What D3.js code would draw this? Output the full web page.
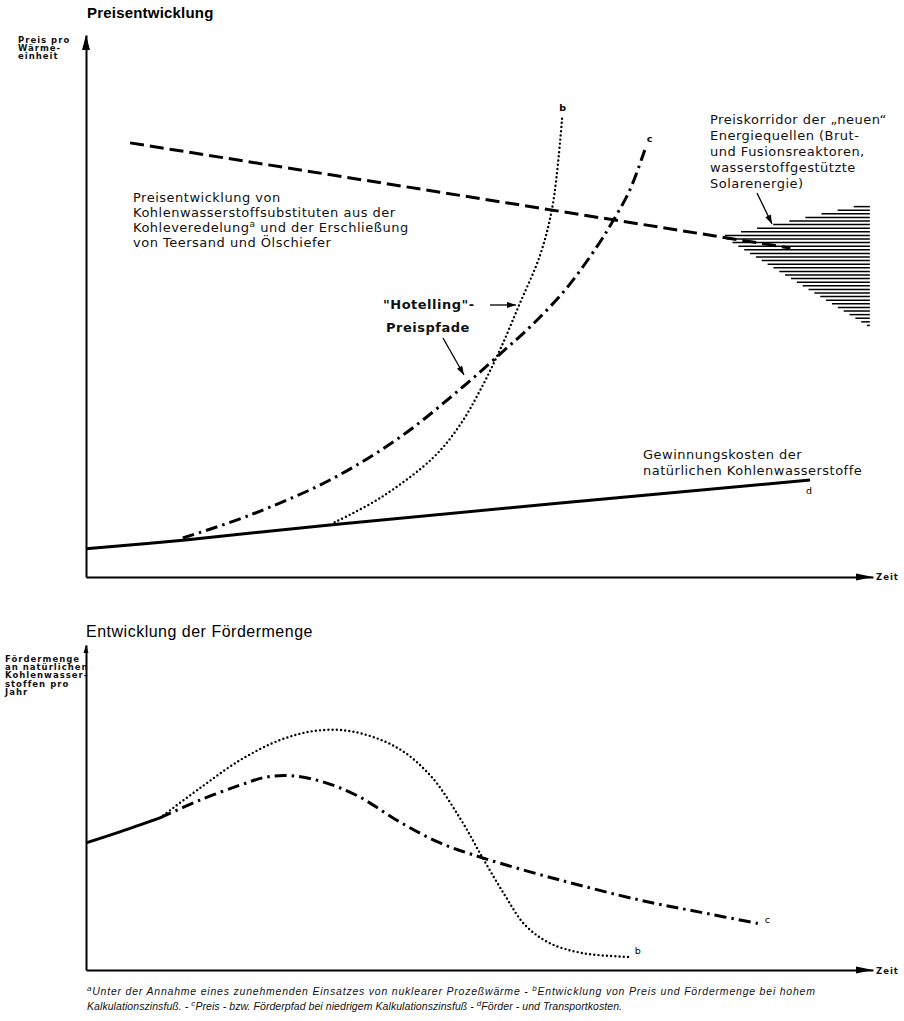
<!DOCTYPE html>
<html lang="de">
<head>
<meta charset="UTF-8">
<title>Preisentwicklung und Fördermenge</title>
<script src="https://d3js.org/d3.v7.min.js"></script>
<style>
  body { margin: 0; background: #fff; }
  svg { display: block; font-family: 'Liberation Sans', Arial, sans-serif; }
  .axis path { stroke: #000; stroke-width: 2px; }
  .lbl { font-family: 'DejaVu Sans', sans-serif; font-size: 13px; letter-spacing: 0.5px; fill: #111; }
  .small { font-family: 'DejaVu Sans', sans-serif; font-size: 8.5px; font-weight: bold; letter-spacing: 1px; fill: #111; }
  .foot { font-size: 10.5px; font-style: italic; fill: #111; }
</style>
</head>
<body>
<svg id="chart" width="904" height="1021"></svg>
<script>
// oberes Diagramm: Zeit 0..100, Preis 0..100 (relative Einheiten)
const kostenD = [[0, 5.2], [12.3, 6.8], [31.6, 9.7], [92.0, 17.9]];
const substitute = [[5.6, 80.1], [89.5, 60.7]];
const preisB = [[31.6, 10.1], [37.4, 14.6], [44.1, 22.0], [47.5, 28.0], [50.1, 34.5], [52.6, 41.9],
                [55.1, 50.4], [57.7, 59.4], [59.3, 68.6], [60.5, 84.7]];
const preisC = [[12.3, 7.2], [20.8, 11.4], [31.0, 17.9], [39.9, 25.8], [47.9, 35.1], [53.2, 41.9],
                [56.4, 46.1], [60.9, 53.0], [64.9, 60.9], [66.8, 65.3], [69.1, 71.4], [71.0, 78.8]];
// Preiskorridor: Spitze, rechter Rand
const korridorT = [80.8, 99.6];
const korridorOben = [62.9, 69.0];
const korridorUnten = [62.9, 46.1];

// unteres Diagramm: Fördermenge 0..100
const mengeStart = [[0, 39.1], [4.3, 42.5], [9.4, 46.8]];
const mengeB = [[9.4, 46.8], [14.5, 56.0], [19.6, 64.6], [24.7, 70.8], [29.2, 73.6], [33.8, 73.4],
                [39.4, 68.6], [43.7, 60.0], [47.5, 46.8], [50.4, 34.5], [53.2, 23.1], [55.8, 13.8],
                [58.9, 8.3], [63.1, 5.2], [69.1, 4.0]];
const mengeC = [[9.4, 46.8], [14.5, 52.3], [19.6, 56.9], [23.0, 59.4], [26.4, 59.7], [30.2, 57.8],
                [34.5, 53.6], [39.9, 45.5], [45.0, 39.1], [50.4, 34.5], [60.2, 27.7], [70.4, 21.5],
                [78.0, 17.8], [85.6, 14.2]];

const korridorText = ["Preiskorridor der „neuen“", "Energiequellen (Brut-", "und Fusionsreaktoren,",
                      "wasserstoffgestützte", "Solarenergie)"];
const yLabelOben = ["Preis pro", "Wärme-", "einheit"];
const yLabelUnten = ["Fördermenge", "an natürlichen", "Kohlenwasser-", "stoffen pro", "Jahr"];

const svg = d3.select("#chart");
const x = d3.scaleLinear().domain([0, 100]).range([86, 873]);
const yP = d3.scaleLinear().domain([0, 100]).range([577, 35]);
const yM = d3.scaleLinear().domain([0, 100]).range([970, 645]);

function arrowHead(px, py, dir, len, half) {
  // dir: "up" oder "right"
  const p = dir === "up"
    ? [[px, py], [px - half, py + len], [px + half, py + len]]
    : [[px, py], [px - len, py - half], [px - len, py + half]];
  svg.append("path").attr("d", "M" + p.join("L") + "Z").attr("fill", "#000");
}

// Achsen
svg.append("g").attr("class", "axis").attr("transform", `translate(0,${yP(0)})`)
  .call(d3.axisBottom(x).tickValues([]).tickSizeOuter(0));
svg.append("g").attr("class", "axis").attr("transform", `translate(${x(0)},0)`)
  .call(d3.axisLeft(yP).tickValues([]).tickSizeOuter(0));
arrowHead(x(100), yP(0), "right", 17, 3.5);
arrowHead(x(0), yP(100), "up", 15, 4);

svg.append("g").attr("class", "axis").attr("transform", `translate(0,${yM(0)})`)
  .call(d3.axisBottom(x).tickValues([]).tickSizeOuter(0));
svg.append("g").attr("class", "axis").attr("transform", `translate(${x(0)},0)`)
  .call(d3.axisLeft(yM).tickValues([]).tickSizeOuter(0));
arrowHead(x(100), yM(0), "right", 17, 3.5);
arrowHead(x(0), yM(100), "up", 8, 2.5);

// Preiskorridor (Schraffur)
const hatch = svg.append("g").attr("stroke", "#000").attr("stroke-width", 1.5);
const pxTop = yP(korridorOben[1]), pxBot = yP(korridorUnten[1]);
for (let py = pxTop; py <= pxBot; py += 3.6) {
  const v = yP.invert(py);
  let t;
  if (v >= korridorOben[0]) {
    t = korridorT[0] + (v - korridorOben[0]) / (korridorOben[1] - korridorOben[0]) * (korridorT[1] - korridorT[0]);
  } else {
    t = korridorT[0] + (v - korridorUnten[0]) / (korridorUnten[1] - korridorUnten[0]) * (korridorT[1] - korridorT[0]);
  }
  hatch.append("line").attr("x1", x(t)).attr("x2", x(korridorT[1])).attr("y1", py).attr("y2", py);
}

// Kurven oben
const lineP = d3.line().x(d => x(d[0])).y(d => yP(d[1])).curve(d3.curveCatmullRom.alpha(0.5));
const lineM = d3.line().x(d => x(d[0])).y(d => yM(d[1])).curve(d3.curveCatmullRom.alpha(0.5));

svg.append("path").datum(kostenD).attr("d", lineP)
  .attr("fill", "none").attr("stroke", "#000").attr("stroke-width", 3);
svg.append("path").datum(substitute).attr("d", lineP)
  .attr("fill", "none").attr("stroke", "#000").attr("stroke-width", 3).attr("stroke-dasharray", "14 6");
svg.append("path").datum(preisC).attr("d", lineP)
  .attr("fill", "none").attr("stroke", "#000").attr("stroke-width", 3).attr("stroke-dasharray", "12 5 2.5 5");
svg.append("path").datum(preisB).attr("d", lineP)
  .attr("fill", "none").attr("stroke", "#000").attr("stroke-width", 2.4)
  .attr("stroke-linecap", "round").attr("stroke-dasharray", "0 4.2");

// Kurven unten
svg.append("path").datum(mengeStart).attr("d", lineM)
  .attr("fill", "none").attr("stroke", "#000").attr("stroke-width", 3);
svg.append("path").datum(mengeC).attr("d", lineM)
  .attr("fill", "none").attr("stroke", "#000").attr("stroke-width", 3).attr("stroke-dasharray", "12 5 2.5 5");
svg.append("path").datum(mengeB).attr("d", lineM)
  .attr("fill", "none").attr("stroke", "#000").attr("stroke-width", 2.4)
  .attr("stroke-linecap", "round").attr("stroke-dasharray", "0 4.2");

// Pfeile
function arrow(x1, y1, x2, y2) {
  svg.append("line").attr("x1", x1).attr("y1", y1).attr("x2", x2).attr("y2", y2)
    .attr("stroke", "#000").attr("stroke-width", 1.3);
  const a = Math.atan2(y2 - y1, x2 - x1), l = 9, w = 3;
  const p = [[x2, y2],
    [x2 - l * Math.cos(a) + w * Math.sin(a), y2 - l * Math.sin(a) - w * Math.cos(a)],
    [x2 - l * Math.cos(a) - w * Math.sin(a), y2 - l * Math.sin(a) + w * Math.cos(a)]];
  svg.append("path").attr("d", "M" + p.join("L") + "Z").attr("fill", "#000");
}
arrow(757, 193, 772, 224);
arrow(490, 305, 516, 305);
arrow(443, 338, 464, 375);

// Texte
svg.append("text").attr("x", 87).attr("y", 18).attr("font-size", 15).attr("font-weight", "bold")
  .attr("letter-spacing", 0.2).text("Preisentwicklung");
svg.append("text").attr("x", 86).attr("y", 637).attr("font-size", 16).attr("letter-spacing", 0.5)
  .text("Entwicklung der Fördermenge");

svg.selectAll(".ylo").data(yLabelOben).join("text").attr("class", "small")
  .attr("x", 18).attr("y", (d, i) => 43 + i * 8).text(d => d);
svg.selectAll(".ylu").data(yLabelUnten).join("text").attr("class", "small")
  .attr("x", 5).attr("y", (d, i) => 662 + i * 8.2).text(d => d);

svg.append("text").attr("class", "small").attr("x", 876).attr("y", 580).text("Zeit");
svg.append("text").attr("class", "small").attr("x", 876).attr("y", 974).text("Zeit");

svg.selectAll(".kor").data(korridorText).join("text").attr("class", "lbl")
  .attr("x", 710).attr("y", (d, i) => 124 + i * 16).text(d => d);

const sub = svg.append("text").attr("class", "lbl").attr("x", 133).attr("y", 202);
sub.append("tspan").attr("x", 133).attr("dy", 0).text("Preisentwicklung von");
sub.append("tspan").attr("x", 133).attr("dy", 15).text("Kohlenwasserstoffsubstituten aus der");
sub.append("tspan").attr("x", 133).attr("dy", 15).text("Kohleveredelung");
sub.append("tspan").attr("dy", -5).attr("font-size", 9).text("a");
sub.append("tspan").attr("dy", 5).text(" und der Erschließung");
sub.append("tspan").attr("x", 133).attr("dy", 15).text("von Teersand und Ölschiefer");

svg.append("text").attr("class", "lbl").attr("x", 383).attr("y", 309)
  .attr("font-weight", "bold").attr("letter-spacing", 1.5).attr("font-size", 12).text("\"Hotelling\"-");
svg.append("text").attr("class", "lbl").attr("x", 386).attr("y", 332)
  .attr("font-weight", "bold").attr("letter-spacing", 1.5).attr("font-size", 12).text("Preispfade");

svg.append("text").attr("class", "lbl").attr("x", 643).attr("y", 459).text("Gewinnungskosten der");
svg.append("text").attr("class", "lbl").attr("x", 643).attr("y", 475).text("natürlichen Kohlenwasserstoffe");

const letter = (t, d, dx, dy, w) => svg.append("text").attr("x", x(d[0]) + dx).attr("y", d[1] + dy)
  .attr("font-family", "'DejaVu Sans', sans-serif").attr("font-size", 9.5).attr("font-weight", w).text(t);
letter("b", [preisB[preisB.length - 1][0], yP(preisB[preisB.length - 1][1])], -3, -7, "bold");
letter("c", [preisC[preisC.length - 1][0], yP(preisC[preisC.length - 1][1])], 2, -8, "bold");
letter("d", [kostenD[kostenD.length - 1][0], yP(kostenD[kostenD.length - 1][1])], -4, 14, "normal");
letter("b", [mengeB[mengeB.length - 1][0], yM(mengeB[mengeB.length - 1][1])], 5, -3, "normal");
letter("c", [mengeC[mengeC.length - 1][0], yM(mengeC[mengeC.length - 1][1])], 5, -1, "normal");

// Fußnoten
const f1 = svg.append("text").attr("class", "foot").attr("x", 87).attr("y", 995)
  .attr("textLength", 728).attr("lengthAdjust", "spacing");
f1.append("tspan").attr("dy", -4).attr("font-size", 8).text("a");
f1.append("tspan").attr("dy", 4).text("Unter der Annahme eines zunehmenden Einsatzes von nuklearer Prozeßwärme  -  ");
f1.append("tspan").attr("dy", -4).attr("font-size", 8).text("b");
f1.append("tspan").attr("dy", 4).text("Entwicklung von Preis und Fördermenge bei hohem");
const f2 = svg.append("text").attr("class", "foot").attr("x", 87).attr("y", 1010)
  .attr("textLength", 535).attr("lengthAdjust", "spacing");
f2.append("tspan").text("Kalkulationszinsfuß.  -  ");
f2.append("tspan").attr("dy", -4).attr("font-size", 8).text("c");
f2.append("tspan").attr("dy", 4).text("Preis - bzw. Förderpfad bei niedrigem Kalkulationszinsfuß  -  ");
f2.append("tspan").attr("dy", -4).attr("font-size", 8).text("d");
f2.append("tspan").attr("dy", 4).text("Förder - und Transportkosten.");
</script>
</body>
</html>
